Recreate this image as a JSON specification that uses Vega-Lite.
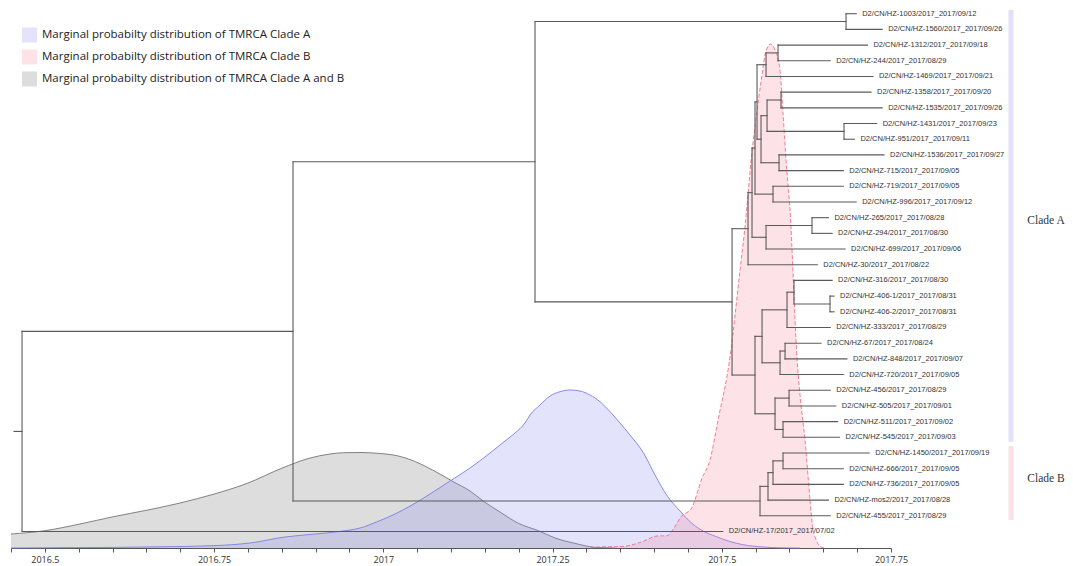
{
  "$schema": "https://vega.github.io/schema/vega-lite/v6.json",
  "width": 880,
  "height": 548,
  "autosize": {"type": "none"},
  "padding": {"left": 11, "top": 0, "right": 182, "bottom": 18},
  "background": "white",
  "config": {"view": {"stroke": null}, "font": "Open Sans", "axis": {"labelOverlap": false, "labelBound": false, "labelFlush": false}},
  "datasets": {
    "densAB": [
      {"t":2016.45,"d":14},{"t":2016.4999,"d":17.3},{"t":2016.5519,"d":24},{"t":2016.6013,"d":31.3},{"t":2016.6521,"d":38},{"t":2016.6997,"d":45},{"t":2016.7503,"d":54},{"t":2016.7991,"d":64.7},{"t":2016.8498,"d":79.7},{"t":2016.8902,"d":89.7},{"t":2016.9213,"d":94},{"t":2016.9411,"d":95.3},{"t":2016.9656,"d":95.5},{"t":2016.9917,"d":94.7},{"t":2017.0222,"d":92},{"t":2017.0476,"d":86.3},{"t":2017.0728,"d":78},{"t":2017.1033,"d":66.3},{"t":2017.1281,"d":57},{"t":2017.1489,"d":46.3},{"t":2017.1724,"d":36},{"t":2017.1996,"d":24.7},{"t":2017.229,"d":17.3},{"t":2017.2537,"d":10},{"t":2017.2829,"d":4.7},{"t":2017.3127,"d":0.7},{"t":2017.3423,"d":0}
    ],
    "densA": [
      {"t":2016.45,"d":0},{"t":2016.5224,"d":0.3},{"t":2016.6007,"d":0.6},{"t":2016.6701,"d":1.2},{"t":2016.7484,"d":2.3},{"t":2016.8031,"d":5},{"t":2016.8548,"d":11},{"t":2016.8991,"d":14},{"t":2016.936,"d":16.6},{"t":2016.9656,"d":20},{"t":2016.9922,"d":26.6},{"t":2017.0173,"d":34},{"t":2017.0424,"d":43},{"t":2017.069,"d":54},{"t":2017.0985,"d":67},{"t":2017.1281,"d":80},{"t":2017.1576,"d":95},{"t":2017.1798,"d":107},{"t":2017.1946,"d":115},{"t":2017.2093,"d":125},{"t":2017.2167,"d":133},{"t":2017.2315,"d":143},{"t":2017.2463,"d":152},{"t":2017.261,"d":156.3},{"t":2017.2758,"d":158},{"t":2017.2906,"d":157},{"t":2017.3054,"d":153},{"t":2017.3201,"d":146.3},{"t":2017.3349,"d":136.3},{"t":2017.3497,"d":125},{"t":2017.3644,"d":113},{"t":2017.3844,"d":95},{"t":2017.4014,"d":73},{"t":2017.4199,"d":51.6},{"t":2017.4383,"d":37},{"t":2017.4553,"d":25},{"t":2017.4723,"d":17},{"t":2017.4909,"d":11.6},{"t":2017.5122,"d":6.5},{"t":2017.5314,"d":3.3},{"t":2017.5618,"d":1},{"t":2017.586,"d":0.2},{"t":2017.6156,"d":0}
    ],
    "densB": [
      {"t":2017.3054,"d":0},{"t":2017.3187,"d":1},{"t":2017.3541,"d":1.6},{"t":2017.3837,"d":6.6},{"t":2017.4043,"d":12},{"t":2017.4191,"d":12.3},{"t":2017.4295,"d":20},{"t":2017.4398,"d":31.3},{"t":2017.4553,"d":39.7},{"t":2017.4708,"d":69.7},{"t":2017.4826,"d":88},{"t":2017.4945,"d":128},{"t":2017.5122,"d":191},{"t":2017.527,"d":278},{"t":2017.5343,"d":321},{"t":2017.5442,"d":393},{"t":2017.5517,"d":435},{"t":2017.559,"d":471},{"t":2017.5649,"d":496},{"t":2017.5723,"d":504},{"t":2017.5787,"d":498},{"t":2017.586,"d":478},{"t":2017.5905,"d":435},{"t":2017.5949,"d":388},{"t":2017.6023,"d":321},{"t":2017.6057,"d":268},{"t":2017.6107,"d":195},{"t":2017.6156,"d":153},{"t":2017.623,"d":108},{"t":2017.6304,"d":48},{"t":2017.6348,"d":18},{"t":2017.6378,"d":11},{"t":2017.6481,"d":0.5},{"t":2017.654,"d":0}
    ],
    "edges": [
      {"t0":2016.4544,"t1":2016.4663,"i0":26.624,"i1":26.624},
      {"t0":2016.4663,"t1":2016.4663,"i0":20.248,"i1":33},
      {"t0":2016.4663,"t1":2016.8666,"i0":20.248,"i1":20.248},
      {"t0":2016.4663,"t1":2017.5014,"i0":33,"i1":33},
      {"t0":2016.8666,"t1":2016.8666,"i0":9.434,"i1":31.0625},
      {"t0":2016.8666,"t1":2017.2241,"i0":9.434,"i1":9.434},
      {"t0":2016.8666,"t1":2017.5565,"i0":31.0625,"i1":31.0625},
      {"t0":2017.2241,"t1":2017.2241,"i0":0.5,"i1":18.367},
      {"t0":2017.2241,"t1":2017.6836,"i0":0.5,"i1":0.5},
      {"t0":2017.2241,"t1":2017.5152,"i0":18.367,"i1":18.367},
      {"t0":2017.6836,"t1":2017.6836,"i0":0,"i1":1},
      {"t0":2017.6836,"t1":2017.6986,"i0":0,"i1":0},
      {"t0":2017.6836,"t1":2017.737,"i0":1,"i1":1},
      {"t0":2017.5152,"t1":2017.5152,"i0":13.703,"i1":23.031},
      {"t0":2017.5152,"t1":2017.5388,"i0":13.703,"i1":13.703},
      {"t0":2017.5152,"t1":2017.5491,"i0":23.031,"i1":23.031},
      {"t0":2017.5388,"t1":2017.5388,"i0":11.406,"i1":16},
      {"t0":2017.5388,"t1":2017.5447,"i0":11.406,"i1":11.406},
      {"t0":2017.5388,"t1":2017.6411,"i0":16,"i1":16},
      {"t0":2017.5447,"t1":2017.5447,"i0":8.5625,"i1":14.25},
      {"t0":2017.5447,"t1":2017.5491,"i0":8.5625,"i1":8.5625},
      {"t0":2017.5447,"t1":2017.5654,"i0":14.25,"i1":14.25},
      {"t0":2017.5491,"t1":2017.5491,"i0":5.625,"i1":11.5},
      {"t0":2017.5491,"t1":2017.5521,"i0":5.625,"i1":5.625},
      {"t0":2017.5491,"t1":2017.5757,"i0":11.5,"i1":11.5},
      {"t0":2017.5521,"t1":2017.5521,"i0":3.25,"i1":8},
      {"t0":2017.5521,"t1":2017.5654,"i0":3.25,"i1":3.25},
      {"t0":2017.5521,"t1":2017.558,"i0":8,"i1":8},
      {"t0":2017.5654,"t1":2017.5654,"i0":2.5,"i1":4},
      {"t0":2017.5654,"t1":2017.5831,"i0":2.5,"i1":2.5},
      {"t0":2017.5654,"t1":2017.7233,"i0":4,"i1":4},
      {"t0":2017.5831,"t1":2017.5831,"i0":2,"i1":3},
      {"t0":2017.5831,"t1":2017.7151,"i0":2,"i1":2},
      {"t0":2017.5831,"t1":2017.6603,"i0":3,"i1":3},
      {"t0":2017.558,"t1":2017.558,"i0":6.5,"i1":9.5},
      {"t0":2017.558,"t1":2017.5669,"i0":6.5,"i1":6.5},
      {"t0":2017.558,"t1":2017.5846,"i0":9.5,"i1":9.5},
      {"t0":2017.5669,"t1":2017.5669,"i0":5.5,"i1":7.5},
      {"t0":2017.5669,"t1":2017.5875,"i0":5.5,"i1":5.5},
      {"t0":2017.5669,"t1":2017.6806,"i0":7.5,"i1":7.5},
      {"t0":2017.5875,"t1":2017.5875,"i0":5,"i1":6},
      {"t0":2017.5875,"t1":2017.7205,"i0":5,"i1":5},
      {"t0":2017.5875,"t1":2017.737,"i0":6,"i1":6},
      {"t0":2017.6806,"t1":2017.6806,"i0":7,"i1":8},
      {"t0":2017.6806,"t1":2017.7288,"i0":7,"i1":7},
      {"t0":2017.6806,"t1":2017.6959,"i0":8,"i1":8},
      {"t0":2017.5846,"t1":2017.5846,"i0":9,"i1":10},
      {"t0":2017.5846,"t1":2017.7397,"i0":9,"i1":9},
      {"t0":2017.5846,"t1":2017.6795,"i0":10,"i1":10},
      {"t0":2017.5757,"t1":2017.5757,"i0":11,"i1":12},
      {"t0":2017.5757,"t1":2017.6795,"i0":11,"i1":11},
      {"t0":2017.5757,"t1":2017.6986,"i0":12,"i1":12},
      {"t0":2017.5654,"t1":2017.5654,"i0":13.5,"i1":15},
      {"t0":2017.5654,"t1":2017.6333,"i0":13.5,"i1":13.5},
      {"t0":2017.5654,"t1":2017.6822,"i0":15,"i1":15},
      {"t0":2017.6333,"t1":2017.6333,"i0":13,"i1":14},
      {"t0":2017.6333,"t1":2017.6575,"i0":13,"i1":13},
      {"t0":2017.6333,"t1":2017.663,"i0":14,"i1":14},
      {"t0":2017.5491,"t1":2017.5491,"i0":20.5625,"i1":25.5},
      {"t0":2017.5491,"t1":2017.5595,"i0":20.5625,"i1":20.5625},
      {"t0":2017.5491,"t1":2017.5787,"i0":25.5,"i1":25.5},
      {"t0":2017.5595,"t1":2017.5595,"i0":18.875,"i1":22.25},
      {"t0":2017.5595,"t1":2017.5964,"i0":18.875,"i1":18.875},
      {"t0":2017.5595,"t1":2017.5861,"i0":22.25,"i1":22.25},
      {"t0":2017.5964,"t1":2017.5964,"i0":17.75,"i1":20},
      {"t0":2017.5964,"t1":2017.6067,"i0":17.75,"i1":17.75},
      {"t0":2017.5964,"t1":2017.6603,"i0":20,"i1":20},
      {"t0":2017.6067,"t1":2017.6067,"i0":17,"i1":18.5},
      {"t0":2017.6067,"t1":2017.663,"i0":17,"i1":17},
      {"t0":2017.6067,"t1":2017.6599,"i0":18.5,"i1":18.5},
      {"t0":2017.6599,"t1":2017.6599,"i0":18,"i1":19},
      {"t0":2017.6599,"t1":2017.6658,"i0":18,"i1":18},
      {"t0":2017.6599,"t1":2017.6658,"i0":19,"i1":19},
      {"t0":2017.5861,"t1":2017.5861,"i0":21.5,"i1":23},
      {"t0":2017.5861,"t1":2017.5935,"i0":21.5,"i1":21.5},
      {"t0":2017.5861,"t1":2017.6795,"i0":23,"i1":23},
      {"t0":2017.5935,"t1":2017.5935,"i0":21,"i1":22},
      {"t0":2017.5935,"t1":2017.6466,"i0":21,"i1":21},
      {"t0":2017.5935,"t1":2017.6849,"i0":22,"i1":22},
      {"t0":2017.5787,"t1":2017.5787,"i0":24.5,"i1":26.5},
      {"t0":2017.5787,"t1":2017.5994,"i0":24.5,"i1":24.5},
      {"t0":2017.5787,"t1":2017.5905,"i0":26.5,"i1":26.5},
      {"t0":2017.5994,"t1":2017.5994,"i0":24,"i1":25},
      {"t0":2017.5994,"t1":2017.6603,"i0":24,"i1":24},
      {"t0":2017.5994,"t1":2017.6685,"i0":25,"i1":25},
      {"t0":2017.5905,"t1":2017.5905,"i0":26,"i1":27},
      {"t0":2017.5905,"t1":2017.6712,"i0":26,"i1":26},
      {"t0":2017.5905,"t1":2017.674,"i0":27,"i1":27},
      {"t0":2017.5565,"t1":2017.5565,"i0":30.125,"i1":32},
      {"t0":2017.5565,"t1":2017.5683,"i0":30.125,"i1":30.125},
      {"t0":2017.5565,"t1":2017.6603,"i0":32,"i1":32},
      {"t0":2017.5683,"t1":2017.5683,"i0":29.25,"i1":31},
      {"t0":2017.5683,"t1":2017.5757,"i0":29.25,"i1":29.25},
      {"t0":2017.5683,"t1":2017.6575,"i0":31,"i1":31},
      {"t0":2017.5757,"t1":2017.5757,"i0":28.5,"i1":30},
      {"t0":2017.5757,"t1":2017.5905,"i0":28.5,"i1":28.5},
      {"t0":2017.5757,"t1":2017.6795,"i0":30,"i1":30},
      {"t0":2017.5905,"t1":2017.5905,"i0":28,"i1":29},
      {"t0":2017.5905,"t1":2017.7178,"i0":28,"i1":28},
      {"t0":2017.5905,"t1":2017.6795,"i0":29,"i1":29}
    ],
    "tips": [
      {"label":"D2/CN/HZ-1003/2017_2017/09/12","t":2017.6986,"i":0},
      {"label":"D2/CN/HZ-1560/2017_2017/09/26","t":2017.737,"i":1},
      {"label":"D2/CN/HZ-1312/2017_2017/09/18","t":2017.7151,"i":2},
      {"label":"D2/CN/HZ-244/2017_2017/08/29","t":2017.6603,"i":3},
      {"label":"D2/CN/HZ-1469/2017_2017/09/21","t":2017.7233,"i":4},
      {"label":"D2/CN/HZ-1358/2017_2017/09/20","t":2017.7205,"i":5},
      {"label":"D2/CN/HZ-1535/2017_2017/09/26","t":2017.737,"i":6},
      {"label":"D2/CN/HZ-1431/2017_2017/09/23","t":2017.7288,"i":7},
      {"label":"D2/CN/HZ-951/2017_2017/09/11","t":2017.6959,"i":8},
      {"label":"D2/CN/HZ-1536/2017_2017/09/27","t":2017.7397,"i":9},
      {"label":"D2/CN/HZ-715/2017_2017/09/05","t":2017.6795,"i":10},
      {"label":"D2/CN/HZ-719/2017_2017/09/05","t":2017.6795,"i":11},
      {"label":"D2/CN/HZ-996/2017_2017/09/12","t":2017.6986,"i":12},
      {"label":"D2/CN/HZ-265/2017_2017/08/28","t":2017.6575,"i":13},
      {"label":"D2/CN/HZ-294/2017_2017/08/30","t":2017.663,"i":14},
      {"label":"D2/CN/HZ-699/2017_2017/09/06","t":2017.6822,"i":15},
      {"label":"D2/CN/HZ-30/2017_2017/08/22","t":2017.6411,"i":16},
      {"label":"D2/CN/HZ-316/2017_2017/08/30","t":2017.663,"i":17},
      {"label":"D2/CN/HZ-406-1/2017_2017/08/31","t":2017.6658,"i":18},
      {"label":"D2/CN/HZ-406-2/2017_2017/08/31","t":2017.6658,"i":19},
      {"label":"D2/CN/HZ-333/2017_2017/08/29","t":2017.6603,"i":20},
      {"label":"D2/CN/HZ-67/2017_2017/08/24","t":2017.6466,"i":21},
      {"label":"D2/CN/HZ-848/2017_2017/09/07","t":2017.6849,"i":22},
      {"label":"D2/CN/HZ-720/2017_2017/09/05","t":2017.6795,"i":23},
      {"label":"D2/CN/HZ-456/2017_2017/08/29","t":2017.6603,"i":24},
      {"label":"D2/CN/HZ-505/2017_2017/09/01","t":2017.6685,"i":25},
      {"label":"D2/CN/HZ-511/2017_2017/09/02","t":2017.6712,"i":26},
      {"label":"D2/CN/HZ-545/2017_2017/09/03","t":2017.674,"i":27},
      {"label":"D2/CN/HZ-1450/2017_2017/09/19","t":2017.7178,"i":28},
      {"label":"D2/CN/HZ-666/2017_2017/09/05","t":2017.6795,"i":29},
      {"label":"D2/CN/HZ-736/2017_2017/09/05","t":2017.6795,"i":30},
      {"label":"D2/CN/HZ-mos2/2017_2017/08/28","t":2017.6575,"i":31},
      {"label":"D2/CN/HZ-455/2017_2017/08/29","t":2017.6603,"i":32},
      {"label":"D2/CN/HZ-17/2017_2017/07/02","t":2017.5014,"i":33}
    ],
    "clades": [
      {"clade":"Clade A","t":2017.9273,"i0":-0.25,"i1":27.28,"tl":2017.979,"il":13.21},
      {"clade":"Clade B","t":2017.9273,"i0":27.55,"i1":32.27,"tl":2017.979,"il":29.66}
    ]
  },
  "layer": [
    {
      "data": {"name": "densAB"},
      "mark": {"type": "area", "interpolate": "monotone", "fillOpacity": 0.235},
      "encoding": {
        "x": {"field": "t", "type": "quantitative", "title": null,
          "scale": {"domain": [2016.45, 2017.75], "nice": false, "zero": false},
          "axis": {"values": [2016.45,2016.5,2016.55,2016.6,2016.65,2016.7,2016.75,2016.8,2016.85,2016.9,2016.95,2017,2017.05,2017.1,2017.15,2017.2,2017.25,2017.3,2017.35,2017.4,2017.45,2017.5,2017.55,2017.6,2017.65,2017.7,2017.75],
            "tickCount": 100,
            "format": ".2~f", "labelExpr": "abs(datum.value*4 - round(datum.value*4)) < 0.001 ? datum.label : ''",
            "grid": false, "title": null, "tickSize": 4, "tickColor": "#555", "domainColor": "#555",
            "labelFont": "Open Sans", "labelFontSize": 9, "labelColor": "#333", "labelPadding": 3,
            "labelFlush": false, "labelOverlap": false, "labelBound": false}},
        "y": {"field": "d", "type": "quantitative", "axis": null, "scale": {"domain": [0, 548], "nice": false}},
        "fill": {"datum": "Marginal probabilty distribution of TMRCA Clade A and B", "type": "nominal",
          "scale": {"domain": ["Marginal probabilty distribution of TMRCA Clade A", "Marginal probabilty distribution of TMRCA Clade B", "Marginal probabilty distribution of TMRCA Clade A and B"], "range": ["#8888ee", "#f78499", "#6e6e6e"]},
          "legend": {"orient": "none", "legendX": 11, "legendY": 27.5, "title": null, "symbolType": "square", "symbolSize": 225, "symbolOpacity": 0.235, "symbolStrokeWidth": 0, "labelFont": "Open Sans", "labelFontSize": 11.5, "labelColor": "#222", "labelOffset": 5, "rowPadding": 7, "padding": 0, "labelLimit": 500}}
      }
    },
    {
      "data": {"name": "densAB"},
      "mark": {"type": "line", "interpolate": "monotone", "stroke": "#666666", "strokeWidth": 0.8},
      "encoding": {
        "x": {"field": "t", "type": "quantitative", "title": null, "scale": {"domain": [2016.45, 2017.75], "nice": false, "zero": false}},
        "y": {"field": "d", "type": "quantitative", "axis": null, "scale": {"domain": [0, 548], "nice": false}}
      }
    },
    {
      "data": {"name": "densA"},
      "mark": {"type": "area", "interpolate": "monotone", "fillOpacity": 0.235},
      "encoding": {
        "x": {"field": "t", "type": "quantitative", "title": null, "scale": {"domain": [2016.45, 2017.75], "nice": false, "zero": false}},
        "y": {"field": "d", "type": "quantitative", "axis": null, "scale": {"domain": [0, 548], "nice": false}},
        "fill": {"datum": "Marginal probabilty distribution of TMRCA Clade A", "type": "nominal"}
      }
    },
    {
      "data": {"name": "densA"},
      "mark": {"type": "line", "interpolate": "monotone", "stroke": "#7d7de8", "strokeWidth": 0.9},
      "encoding": {
        "x": {"field": "t", "type": "quantitative", "title": null, "scale": {"domain": [2016.45, 2017.75], "nice": false, "zero": false}},
        "y": {"field": "d", "type": "quantitative", "axis": null, "scale": {"domain": [0, 548], "nice": false}}
      }
    },
    {
      "data": {"name": "densB"},
      "mark": {"type": "area", "interpolate": "monotone", "fillOpacity": 0.235},
      "encoding": {
        "x": {"field": "t", "type": "quantitative", "title": null, "scale": {"domain": [2016.45, 2017.75], "nice": false, "zero": false}},
        "y": {"field": "d", "type": "quantitative", "axis": null, "scale": {"domain": [0, 548], "nice": false}},
        "fill": {"datum": "Marginal probabilty distribution of TMRCA Clade B", "type": "nominal"}
      }
    },
    {
      "data": {"name": "densB"},
      "mark": {"type": "line", "interpolate": "monotone", "stroke": "#f0607c", "strokeWidth": 0.8, "strokeDash": [4, 2]},
      "encoding": {
        "x": {"field": "t", "type": "quantitative", "title": null, "scale": {"domain": [2016.45, 2017.75], "nice": false, "zero": false}},
        "y": {"field": "d", "type": "quantitative", "axis": null, "scale": {"domain": [0, 548], "nice": false}}
      }
    },
    {
      "data": {"name": "edges"},
      "mark": {"type": "rule", "stroke": "#5a5a5a", "strokeWidth": 1.1, "strokeCap": "square"},
      "encoding": {
        "x": {"field": "t0", "type": "quantitative", "title": null, "scale": {"domain": [2016.45, 2017.75], "nice": false, "zero": false}},
        "x2": {"field": "t1"},
        "y": {"field": "i0", "type": "quantitative", "axis": null, "scale": {"domain": [-0.873, 34.054], "reverse": true, "nice": false, "zero": false}},
        "y2": {"field": "i1"}
      }
    },
    {
      "data": {"name": "tips"},
      "mark": {"type": "text", "align": "left", "baseline": "middle", "dx": 6, "font": "Liberation Sans", "fontSize": 7.5, "fill": "#333333"},
      "encoding": {
        "x": {"field": "t", "type": "quantitative", "title": null, "scale": {"domain": [2016.45, 2017.75], "nice": false, "zero": false}},
        "y": {"field": "i", "type": "quantitative", "axis": null, "scale": {"domain": [-0.873, 34.054], "reverse": true, "nice": false, "zero": false}},
        "text": {"field": "label"}
      }
    },
    {
      "data": {"name": "clades"},
      "mark": {"type": "rule", "strokeWidth": 5},
      "encoding": {
        "x": {"field": "t", "type": "quantitative", "title": null, "scale": {"domain": [2016.45, 2017.75], "nice": false, "zero": false}},
        "y": {"field": "i0", "type": "quantitative", "axis": null, "scale": {"domain": [-0.873, 34.054], "reverse": true, "nice": false, "zero": false}},
        "y2": {"field": "i1"},
        "color": {"field": "clade", "type": "nominal", "scale": {"domain": ["Clade A", "Clade B"], "range": ["#e1e1fb", "#fbe0e5"]}, "legend": null}
      }
    },
    {
      "data": {"name": "clades"},
      "mark": {"type": "text", "align": "center", "baseline": "middle", "font": "Liberation Serif", "fontSize": 11.5, "fill": "#333333"},
      "encoding": {
        "x": {"field": "tl", "type": "quantitative", "title": null, "scale": {"domain": [2016.45, 2017.75], "nice": false, "zero": false}},
        "y": {"field": "il", "type": "quantitative", "axis": null, "scale": {"domain": [-0.873, 34.054], "reverse": true, "nice": false, "zero": false}},
        "text": {"field": "clade"}
      }
    }
  ],
  "resolve": {"scale": {"y": "independent"}}
}
